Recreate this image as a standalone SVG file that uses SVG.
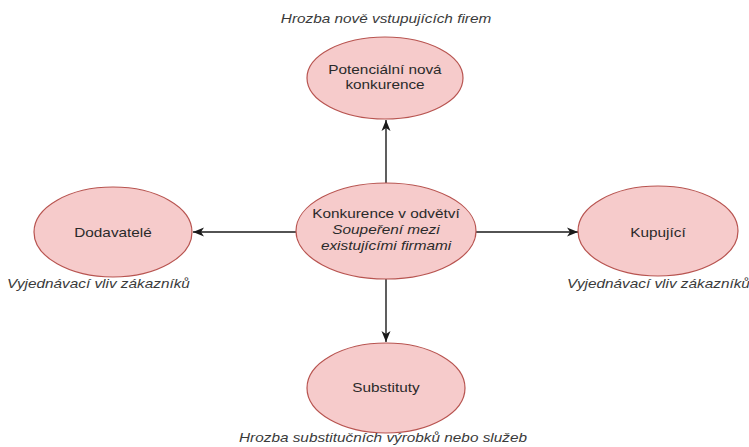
<svg xmlns="http://www.w3.org/2000/svg" width="749" height="447" viewBox="0 0 749 447">
<style>
.node{fill:#f6cbcb;stroke:#b85450;stroke-width:1.2}
.t{font-family:"Liberation Sans",Arial,sans-serif;font-size:13px;fill:#2a2a2a;text-anchor:middle}
.lbl{font-family:"Liberation Sans",Arial,sans-serif;font-size:13px;font-style:italic;fill:#3a3a3a}
.i{font-style:italic}
.edge{stroke:#1a1a1a;stroke-width:1.4;fill:none}
</style>
<defs>
<marker id="arr" markerUnits="userSpaceOnUse" markerWidth="12" markerHeight="10" refX="11" refY="5" orient="auto">
<path d="M0,0.5 L11,5 L0,9.5 L3,5 Z" fill="#1a1a1a"/>
</marker>
</defs>
<g id="edges">
<line class="edge" x1="386" y1="183" x2="386" y2="120" marker-end="url(#arr)"/>
<line class="edge" x1="296" y1="232" x2="193" y2="232" marker-end="url(#arr)"/>
<line class="edge" x1="476" y1="232" x2="578" y2="232" marker-end="url(#arr)"/>
<line class="edge" x1="386" y1="279" x2="386" y2="342" marker-end="url(#arr)"/>
</g>
<g id="potencialni">
<ellipse class="node" cx="385" cy="78" rx="78" ry="41"/>
<text class="t" transform="translate(385,74) scale(1.18,1)">Potenciální nová</text>
<text class="t" transform="translate(385,89) scale(1.18,1)">konkurence</text>
<text class="lbl" text-anchor="middle" transform="translate(386,23) scale(1.18,1)">Hrozba nově vstupujících firem</text>
</g>
<g id="konkurence">
<ellipse class="node" cx="386" cy="231" rx="90" ry="48"/>
<text class="t" transform="translate(386,218) scale(1.18,1)">Konkurence v odvětví</text>
<text class="t i" transform="translate(386,234) scale(1.18,1)">Soupeření mezi</text>
<text class="t i" transform="translate(386,250) scale(1.18,1)">existujícími firmami</text>
</g>
<g id="dodavatele">
<ellipse class="node" cx="113" cy="232" rx="79" ry="45"/>
<text class="t" transform="translate(113,237) scale(1.18,1)">Dodavatelé</text>
<text class="lbl" transform="translate(7,288) scale(1.18,1)">Vyjednávací vliv zákazníků</text>
</g>
<g id="kupujici">
<ellipse class="node" cx="658" cy="231" rx="80" ry="45"/>
<text class="t" transform="translate(658,237) scale(1.18,1)">Kupující</text>
<text class="lbl" transform="translate(567,288) scale(1.18,1)">Vyjednávací vliv zákazníků</text>
</g>
<g id="substituty">
<ellipse class="node" cx="386" cy="388" rx="79" ry="45"/>
<text class="t" transform="translate(386,392) scale(1.18,1)">Substituty</text>
<text class="lbl" text-anchor="middle" transform="translate(383,442) scale(1.18,1)">Hrozba substitučních výrobků nebo služeb</text>
</g>
</svg>
